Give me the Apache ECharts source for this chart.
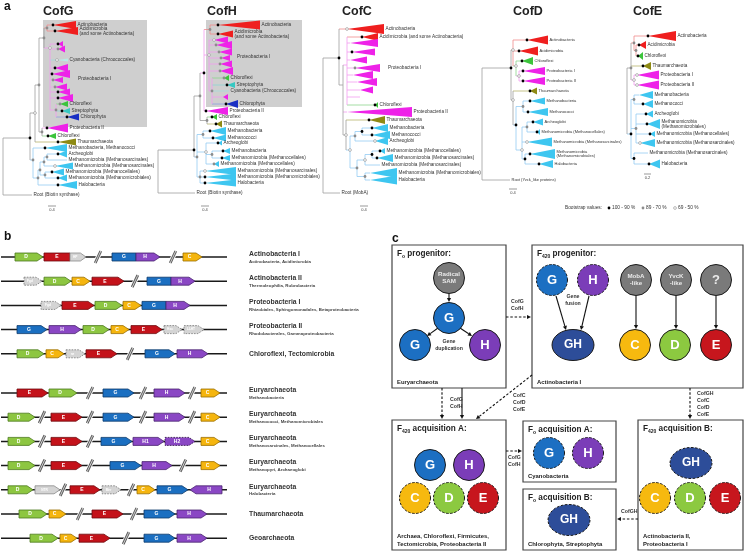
<!DOCTYPE html>
<html><head><meta charset="utf-8">
<script src="https://cdn.jsdelivr.net/npm/echarts@6/dist/echarts.min.js"></script>
<style>html,body{margin:0;padding:0;background:#fff}#c{width:744px;height:551px}</style>
</head><body><div id="c"></div>
<script>
// ================= DATA =================
// Panel a: phylogenetic trees. leaf: [label, y, parentX, apexX, tipX, halfHeight, group, bootstrap]
// node: [x, y, yTop, yBottom, parentX, group, bootstrap]   bootstrap: 0 = 100-90, 1 = 89-70, 2 = 69-50, -1 none
const treeTitles = ['CofG', 'CofH', 'CofC', 'CofD', 'CofE'];
const bootstrapLabels = ['100 - 90 %', '89 - 70 %', '69 - 50 %'];

const CofG_leaves = [
  ['Actinobacteria', 25, 47, 53, 76, 4, 'act', 0],
  ['Acidimicrobia\n(and some Actinobacteria)', 31, 47, 55, 78, 4, 'act', 0],
  ['', 44, 50, 58, 63, 3, 'pro', 0],
  ['', 49, 50, 58, 65, 3.5, 'pro', 1],
  ['Cyanobacteria (Chroococcales)', 60, 50, 57, 68, 1.5, 'cya', 2],
  ['', 68, 50, 55, 68, 4, 'pro', 0],
  ['', 74, 50, 52, 70, 4, 'pro', 0],
  ['', 80, 50, 53, 63, 3, 'pro', 1],
  ['', 87, 50, 55, 67, 3.5, 'pro', 1],
  ['', 92, 50, 58, 70, 3.5, 'pro', 0],
  ['', 98, 50, 58, 73, 4, 'pro', 0],
  ['Chloroflexi', 104, 56, 60, 68, 3, 'chl', 1],
  ['Streptophyta', 111, 56, 62, 70, 3, 'str', 0],
  ['Chlorophyta', 117, 56, 67, 79, 3.5, 'chp', 0],
  ['Proteobacteria II', 128, 42, 47, 68, 4.5, 'pro', 0],
  ['Chloroflexi', 136, 42, 48, 56, 3, 'chl', 0],
  ['Thaumarchaeota', 142, 35, 58, 76, 3.5, 'tha', 0],
  ['Methanobacteria, Methanococci', 148, 33, 45, 67, 4, 'arc', 0],
  ['Archeoglobi', 154, 47, 58, 67, 3.5, 'arc', 0],
  ['Methanomicrobia (Methanosarcinales)', 160, 47, 67, 67, 0, 'arc', -1],
  ['Methanomicrobia (Methanosarcinales)', 166, 44, 55, 73, 3.5, 'arc', 2],
  ['Methanomicrobia (Methanocellales)', 172, 45, 52, 64, 3.5, 'arc', 0],
  ['Methanomicrobia (Methanomicrobiales)', 178, 45, 58, 67, 3.5, 'arc', 0],
  ['Halobacteria', 185, 38, 58, 77, 4, 'arc', 0],
  ['Root (Biotin synthase)', 195, 3, 32, 32, 0, 'root', -1]
];
const CofG_nodes = [
  [3, 166, 138, 195, 3, 'root', -1],
  [30, 138, 113, 160, 3, 'root', 0],
  [35, 113, 85, 142, 30, 'root', 2],
  [39, 85, 38, 132, 35, 'root', 1],
  [44, 38, 28, 48, 39, 'root', 1],
  [47, 28, 25, 31, 44, 'act', 1],
  [50, 48, 44, 110, 44, 'pro', 2],
  [56, 110, 104, 117, 50, 'pro', 1],
  [42, 132, 128, 136, 39, 'root', 1],
  [33, 160, 148, 178, 30, 'arc', 1],
  [38, 178, 170, 185, 33, 'arc', 1],
  [40, 170, 162, 175, 38, 'arc', 1],
  [44, 162, 157, 166, 40, 'arc', 1],
  [47, 157, 154, 160, 44, 'arc', 1],
  [45, 175, 172, 178, 40, 'arc', 1]
];
const CofG_cladeLabels = [['Proteobacteria I', 78, 79]];

const CofH_leaves = [
  ['Actinobacteria', 25, 210, 218, 260, 4.5, 'act', 0],
  ['Acidimicrobia\n(and some Actinobacteria)', 34, 210, 218, 233, 3.5, 'act', 0],
  ['', 40, 209, 214, 228, 3.5, 'pro', 2],
  ['', 45, 209, 216, 232, 4, 'pro', 1],
  ['', 52, 209, 219, 232, 3.5, 'pro', 1],
  ['', 58, 209, 221, 230, 3, 'pro', 1],
  ['', 64, 209, 220, 232, 3.5, 'pro', 1],
  ['', 71, 209, 220, 233, 4, 'pro', 1],
  ['Chloroflexi', 78, 212, 224, 229, 3, 'chl', 1],
  ['Streptophyta', 85, 212, 227, 235, 3, 'str', 0],
  ['Cyanobacteria (Chroococcales)', 91, 212, 229, 229, 0, 'cya', -1],
  ['', 97, 212, 223, 228, 3, 'pro', -1],
  ['Chlorophyta', 104, 212, 226, 238, 4, 'chp', 0],
  ['Proteobacteria II', 111, 204, 206, 228, 4, 'pro', 0],
  ['Chloroflexi', 117, 207, 212, 217, 3, 'chl', 0],
  ['Thaumarchaeota', 124, 207, 216, 222, 3.5, 'tha', 0],
  ['Methanobacteria', 131, 203, 210, 226, 4, 'arc', 0],
  ['Methanococci', 138, 203, 213, 226, 3.5, 'arc', 0],
  ['Archeoglobi', 143, 206, 218, 222, 2.5, 'arc', 0],
  ['Methanobacteria', 151, 212, 223, 230, 3, 'arc', 0],
  ['Methanomicrobia (Methanocellales)', 158, 212, 222, 230, 3, 'arc', 0],
  ['Methanomicrobia (Methanocellales)', 164, 206, 214, 219, 3, 'arc', 1],
  ['Methanomicrobia (Methanosarcinales)', 171, 200, 205, 236, 4, 'arc', 2],
  ['Methanomicrobia (Methanomicrobiales)', 177, 200, 205, 236, 3.5, 'arc', 0],
  ['Halobacteria', 183, 200, 205, 236, 3.5, 'arc', 0],
  ['Root (Biotin synthase)', 193, 158, 195, 195, 0, 'root', -1]
];
const CofH_nodes = [
  [158, 171.5, 150, 193, 158, 'root', -1],
  [194, 150, 96, 157, 158, 'root', 0],
  [200, 96, 73, 120.5, 194, 'root', 1],
  [204, 73, 29.5, 111, 200, 'pro', 0],
  [210, 29.5, 25, 34, 204, 'act', 1],
  [209, 55, 40, 91, 204, 'pro', 2],
  [212, 91, 78, 104, 209, 'pro', 1],
  [207, 120.5, 117, 124, 200, 'root', 1],
  [197, 157, 134.5, 177, 194, 'arc', 1],
  [203, 134.5, 131, 138, 197, 'arc', 1],
  [206, 152, 143, 164, 197, 'arc', 2],
  [212, 154.5, 151, 158, 206, 'arc', 1],
  [200, 177, 171, 183, 197, 'arc', 1]
];
const CofH_cladeLabels = [['Proteobacteria I', 237, 57]];

const CofC_leaves = [
  ['Actinobacteria', 29, 339, 347, 384, 5, 'act', 2],
  ['Acidimicrobia (and some Actinobacteria)', 37, 347, 362, 378, 4, 'act', 0],
  ['', 43, 347, 350, 378, 4, 'pro', -1],
  ['', 52, 347, 352, 375, 3.5, 'pro', 0],
  ['', 60, 347, 350, 367, 3.5, 'pro', -1],
  ['', 68, 347, 355, 380, 4, 'pro', 1],
  ['', 75, 347, 353, 373, 4, 'pro', -1],
  ['', 82, 347, 357, 377, 4, 'pro', -1],
  ['', 90, 347, 360, 373, 3.5, 'pro', -1],
  ['', 97, 347, 360, 360, 0, 'pro', -1],
  ['Chloroflexi', 105, 347, 375, 378, 3, 'chl', 0],
  ['Proteobacteria II', 112, 343, 347, 412, 5, 'pro', -1],
  ['Thaumarchaeota', 120, 346, 369, 385, 4, 'tha', 0],
  ['Methanobacteria', 128, 362, 372, 388, 4, 'arc', 0],
  ['Methanococci', 135, 362, 372, 390, 4, 'arc', 0],
  ['Archeoglobi', 141, 355, 375, 388, 4, 'arc', 2],
  ['Methanomicrobia (Methanocellales)', 151, 372, 380, 385, 3, 'arc', 0],
  ['Methanomicrobia (Methanosarcinales)', 158, 372, 377, 393, 4, 'arc', 0],
  ['Methanomicrobia (Methanosarcinales)', 165, 365, 380, 380, 0, 'arc', -1],
  ['Methanomicrobia (Methanomicrobiales)', 173, 365, 370, 397, 5, 'arc', -1],
  ['Halobacteria', 180, 365, 370, 397, 4.5, 'arc', -1],
  ['Root (MobA)', 193, 323, 340, 340, 0, 'root', -1]
];
const CofC_nodes = [
  [323, 125, 58, 193, 323, 'root', -1],
  [339, 58, 29, 85, 323, 'root', 0],
  [343, 85, 65, 135, 339, 'root', -1],
  [347, 65, 37, 105, 343, 'pro', -1],
  [346, 135, 120, 150, 343, 'root', 2],
  [350, 150, 136, 168, 346, 'arc', 2],
  [355, 136, 131.5, 141, 350, 'arc', 1],
  [362, 131.5, 128, 135, 355, 'arc', 0],
  [357, 168, 160, 176.5, 350, 'arc', 1],
  [365, 160, 154.5, 165, 357, 'arc', 2],
  [372, 154.5, 151, 158, 365, 'arc', 0],
  [365, 176.5, 173, 180, 357, 'arc', 1]
];
const CofC_cladeLabels = [['Proteobacteria I', 388, 68]];

const CofD_leaves = [
  ['Actinobacteria', 40, 513, 527, 548, 4.5, 'act', 0],
  ['Acidimicrobia', 51, 513, 519, 538, 4.5, 'act', 0],
  ['Chloroflexi', 61, 516, 522, 533, 4, 'chl', 0],
  ['Proteobacteria I', 71, 519, 523, 545, 4, 'pro', 0],
  ['Proteobacteria II', 81, 519, 523, 545, 4, 'pro', 0],
  ['Thaumarchaeota', 91, 513, 530, 537, 3.5, 'tha', 0],
  ['Methanobacteria', 101, 523, 530, 545, 3.5, 'arc', 0],
  ['Methanococci', 112, 523, 528, 548, 4, 'arc', 0],
  ['Archeoglobi', 122, 527, 533, 543, 3.5, 'arc', 0],
  ['Methanomicrobia (Methanocellales)', 132, 527, 537, 540, 3, 'arc', 0],
  ['Methanomicrobia (Methanosarcinales)', 142, 522, 527, 552, 4.5, 'arc', 2],
  ['Methanomicrobia\n(Methanomicrobiales)', 154, 525, 530, 555, 5, 'arc', 0],
  ['Halobacteria', 164, 525, 539, 553, 4, 'arc', 0],
  ['Root (Yvck_like proteins)', 180, 482, 510, 510, 0, 'root', -1]
];
const CofD_nodes = [
  [482, 124, 68, 180, 482, 'root', -1],
  [511, 68, 50, 100, 482, 'root', 0],
  [513, 50, 40, 66, 511, 'act', 2],
  [516, 66, 61, 76, 513, 'chl', 2],
  [519, 76, 71, 81, 516, 'pro', 2],
  [513, 100, 91, 125, 511, 'root', 2],
  [516, 125, 106.5, 150, 513, 'arc', 0],
  [523, 106.5, 101, 112, 516, 'arc', 1],
  [522, 150, 127, 159, 516, 'arc', 2],
  [527, 127, 122, 132, 522, 'arc', 1],
  [525, 159, 154, 164, 522, 'arc', 0]
];
const CofD_cladeLabels = [];

const CofE_leaves = [
  ['Actinobacteria', 36, 634, 648, 676, 5, 'act', 0],
  ['Acidimicrobia', 45, 636, 639, 646, 4, 'act', 0],
  ['Chloroflexi', 56, 636, 638, 643, 4, 'chl', 0],
  ['Thaumarchaeota', 66, 631, 643, 651, 4, 'tha', 0],
  ['Proteobacteria I', 75, 634, 637, 659, 4.5, 'pro', 2],
  ['Proteobacteria II', 85, 634, 637, 659, 4.5, 'pro', 2],
  ['Methanobacteria', 95, 634, 639, 653, 4, 'arc', -1],
  ['Methanococci', 104, 634, 643, 653, 4, 'arc', 0],
  ['Archeoglobi', 114, 636, 646, 653, 3.5, 'arc', 0],
  ['Methanomicrobia\n(Methanomicrobiales)', 124, 636, 647, 660, 5, 'arc', 0],
  ['Methanomicrobia (Methanocellales)', 134, 636, 650, 655, 3, 'arc', 0],
  ['Methanomicrobia (Methanosarcinales)', 143, 636, 640, 655, 4, 'arc', 2],
  ['Methanomicrobia (Methanosarcinales)', 153, 634, 648, 648, 0, 'arc', -1],
  ['Halobacteria', 164, 634, 649, 660, 4.5, 'arc', 0]
];
const CofE_nodes = [
  [627, 101, 68, 134, 627, 'root', -1],
  [631, 68, 43, 80, 627, 'root', 1],
  [634, 43, 36, 50.5, 631, 'act', 1],
  [636, 50.5, 45, 56, 634, 'act', 1],
  [634, 80, 75, 85, 631, 'pro', 2],
  [631, 134, 99.5, 158.5, 627, 'arc', 0],
  [634, 99.5, 95, 104, 631, 'arc', 1],
  [636, 128.5, 114, 143, 631, 'arc', 1],
  [634, 158.5, 153, 164, 631, 'arc', 0]
];
const CofE_cladeLabels = [];
const scaleBarLabels = ['0.4', '0.4', '0.4', '0.4', '0.2'];

// Panel b: gene clusters. gene: [name, start, end, form]  form: a arrow, r fused block, g auxiliary, d dashed auxiliary, dh dashed gene, l reverse arrow
const geneRowNames = ['Actinobacteria I', 'Actinobacteria II', 'Proteobacteria I', 'Proteobacteria II', 'Chloroflexi, Tectomicrobia',
  'Euryarchaeota', 'Euryarchaeota', 'Euryarchaeota', 'Euryarchaeota', 'Euryarchaeota', 'Thaumarchaeota', 'Geoarchaeota'];
const geneRowSubs = ['Actinobacteria, Acidimicrobia', 'Thermoleophilia, Rubrobacteria', 'Rhizobiales, Sphingomonadales, Betaproteobacteria',
  'Rhodobacterales, Gammaproteobacteria', '', 'Methanobacteria', 'Methanococci, Methanomicrobiales', 'Methanosarcinales, Methanocellales',
  'Methanopyri, Archaeoglobi', 'Halobacteria', '', ''];
const geneRowGenes = [
  [['D', 15, 43, 'a'], ['E', 44, 70, 'r'], ['HP', 70, 86, 'g'], ['G', 112, 136, 'r'], ['H', 136, 160, 'a'], ['C', 183, 202, 'a']],
  [['Fgd', 24, 42, 'd'], ['D', 44, 71, 'a'], ['C', 72, 90, 'a'], ['E', 92, 124, 'a'], ['G', 147, 171, 'r'], ['H', 171, 195, 'a']],
  [['Fgd', 41, 61, 'd'], ['E', 62, 94, 'a'], ['D', 95, 122, 'a'], ['C', 123, 141, 'a'], ['G', 142, 166, 'r'], ['H', 166, 190, 'a']],
  [['G', 17, 47, 'a'], ['H', 49, 81, 'a'], ['D', 83, 109, 'a'], ['C', 111, 129, 'a'], ['E', 131, 162, 'a'], ['Hxc', 164, 182, 'd'], ['LLHT', 184, 204, 'd']],
  [['D', 17, 44, 'a'], ['C', 46, 64, 'a'], ['ne', 66, 85, 'd'], ['E', 86, 117, 'a'], ['G', 145, 175, 'a'], ['H', 177, 208, 'a']],
  [['E', 17, 48, 'a'], ['D', 49, 77, 'a'], ['G', 103, 134, 'a'], ['H', 154, 185, 'a'], ['C', 201, 220, 'a']],
  [['D', 8, 35, 'a'], ['E', 51, 82, 'a'], ['G', 103, 134, 'a'], ['H', 154, 185, 'a'], ['C', 201, 220, 'a']],
  [['D', 8, 35, 'a'], ['E', 51, 82, 'a'], ['G', 101, 132, 'a'], ['H1', 133, 164, 'a'], ['H2', 165, 195, 'dh'], ['C', 201, 220, 'a']],
  [['D', 8, 35, 'a'], ['E', 51, 82, 'a'], ['G', 110, 141, 'a'], ['H', 142, 172, 'a'], ['C', 201, 220, 'a']],
  [['D', 8, 33, 'a'], ['NTR', 35, 60, 'g'], ['E', 70, 100, 'a'], ['Mer', 102, 121, 'd'], ['C', 137, 155, 'a'], ['G', 157, 188, 'a'], ['H', 190, 222, 'l']],
  [['D', 19, 47, 'a'], ['C', 49, 66, 'a'], ['E', 92, 123, 'a'], ['G', 144, 175, 'a'], ['H', 177, 207, 'a']],
  [['D', 30, 58, 'a'], ['C', 60, 77, 'a'], ['E', 79, 110, 'a'], ['G', 144, 175, 'a'], ['H', 177, 207, 'a']]
];
const geneRowBreaks = [[98, 173], [135], [], [], [130], [90, 143, 192], [42, 90, 143, 192], [42, 90], [42, 90, 183], [63, 131], [80, 134], [126]];

// Panel c: evolutionary scenario
const cBoxTitles = [['o', ' progenitor:'], ['420', ' progenitor:'], ['420', ' acquisition A:'], ['o', ' acquisition A:'], ['o', ' acquisition B:'], ['420', ' acquisition B:']];
const cBoxFooters = [['Euryarchaeota'], ['Actinobacteria I'], ['Archaea, Chloroflexi, Firmicutes,', 'Tectomicrobia, Proteobacteria II'],
  ['Cyanobacteria'], ['Chlorophyta, Streptophyta'], ['Actinobacteria II,', 'Proteobacteria I']];
const cNodeLabels = ['Radical\nSAM', 'G', 'G', 'H', 'G', 'H', 'MobA\n-like', 'YvcK\n-like', '?', 'GH', 'C', 'D', 'E',
  'G', 'H', 'C', 'D', 'E', 'G', 'H', 'GH', 'GH', 'C', 'D', 'E'];
const cNodeKinds = ['X', 'G', 'G', 'H', 'G', 'H', 'X', 'X', 'X', 'GH', 'C', 'D', 'E',
  'G', 'H', 'C', 'D', 'E', 'G', 'H', 'GH', 'GH', 'C', 'D', 'E'];
const cNodeInferred = [0, 0, 0, 0, 1, 1, 0, 0, 0, 0, 0, 0, 0, 0, 0, 1, 1, 1, 1, 1, 1, 1, 1, 1, 1];
const cArrowLabels = ['CofG\nCofH', 'CofG\nCofH', 'CofC\nCofD\nCofE', 'CofGH\nCofC\nCofD\nCofE', 'CofG\nCofH', 'CofGH'];
const cInnerLabels = ['Gene\nduplication', 'Gene\nfusion'];

// ================= LAYOUT / STYLE =================
const FONT = 'Arial, "Liberation Sans", Helvetica, sans-serif';
const wedgeColor = { act: '#ef1f1f', pro: '#ee22e8', cya: '#b8ece6', chl: '#3cc43c', str: '#36c8c2', chp: '#1a30c4', tha: '#8e8a14', arc: '#3ec6f0', root: '#999' };
const branchColor = { act: '#f08a8a', pro: '#f39cf0', cya: '#a4dcdc', chl: '#8ed48e', str: '#8ed4d4', chp: '#8e9ee0', tha: '#b8b46c', arc: '#94ccf2', root: '#a0a0a0' };
const geneFill = { D: '#8dc641', E: '#c4121a', C: '#f5b50e', G: '#1b6fc1', H: '#8a47c4', X: '#d4d4d4' };
const geneStroke = { D: '#4d7a1e', E: '#6e0b0f', C: '#9a6e00', G: '#0c3a6a', H: '#4a2470', X: '#8a8a8a' };
const nodeFill = { G: '#1c6fc2', H: '#7b3db8', C: '#f6b90f', D: '#8cc940', E: '#c7161d', GH: '#2d4d99', X: '#7a7a7a' };

const treeTitleX = [43, 207, 342, 513, 633];
const treeLabelSize = [4.7, 4.7, 4.7, 4.0, 4.6];
const treeBoxes = [[43, 20, 147, 127], [206, 20, 302, 107]];
const scaleBars = [[48, 56, 206], [201, 209, 206], [360, 368, 206], [509, 517, 189], [644, 651, 174]];
const legendX = [565, 612, 646, 678];
const cBoxRects = [[392, 245, 506, 388], [532, 245, 743, 388], [392, 420, 506, 550], [523, 421, 616, 482], [523, 489, 616, 550], [638, 420, 743, 550]];
const cNodePos = [[449, 278], [449, 318], [415, 345], [485, 345], [552, 280], [593, 280], [636, 280], [676, 280], [716, 280], [573, 345], [635, 345], [675, 345], [716, 345],
  [430, 465], [469, 465], [415, 498], [449, 498], [483, 498], [549, 453], [588, 453], [569, 520], [691, 463], [655, 498], [690, 498], [725, 498]];
const cArrows = [[449, 293, 449, 302, 0], [438, 328, 427, 336, 0], [460, 328, 472, 336, 0], [556, 296, 566, 330, 0], [589, 296, 581, 330, 0],
  [636, 296, 636, 329, 0], [676, 296, 676, 329, 0], [716, 296, 716, 329, 0], [506, 317, 531, 317, 1], [442, 388, 442, 419, 1], [462, 388, 462, 419, 0],
  [532, 375, 476, 419, 1], [690, 388, 690, 419, 1], [506, 451, 522, 451, 1], [638, 519, 617, 519, 1]];
const cArrowLabelPos = [[511, 305], [450, 403], [513, 403], [697, 404], [508, 461], [621, 512]];
const cInnerLabelPos = [[449, 345], [573, 300]];

// ================= BUILD ELEMENTS =================
const trees = [
  [CofG_leaves, CofG_nodes, CofG_cladeLabels], [CofH_leaves, CofH_nodes, CofH_cladeLabels], [CofC_leaves, CofC_nodes, CofC_cladeLabels],
  [CofD_leaves, CofD_nodes, CofD_cladeLabels], [CofE_leaves, CofE_nodes, CofE_cladeLabels]
];
const HL = [], VL = [], WG = [], DT = [], TX = [];
trees.forEach(([leaves, nodes, clabs], ti) => {
  const small = { fontSize: treeLabelSize[ti], fill: '#333' };
  const lh = treeLabelSize[ti] * 1.1;
  leaves.forEach(([lab, y, px, ax, tx, h, g, dot]) => {
    if (ax > px) HL.push([px, ax, y, g]);
    if (h > 0) WG.push([ax, tx, y, h, g]);
    if (dot >= 0) DT.push([ax, y, dot]);
    if (lab) {
      const lines = lab.split('\n'); const x0 = (h > 0 ? tx : ax) + 1.5;
      lines.forEach((s, i) => TX.push([s, x0, y + (i - (lines.length - 1) / 2) * lh, small]));
    }
  });
  nodes.forEach(([x, y, y1, y2, px, g, dot]) => {
    VL.push([x, y1, y2, g]);
    if (x > px) HL.push([px, x, y, g]);
    if (dot >= 0) DT.push([x, y, dot]);
  });
  clabs.forEach(([s, x, y]) => TX.push([s, x, y, small]));
});
treeTitles.forEach((t, i) => TX.push([t, treeTitleX[i], 12, { fontSize: 12.5, fontWeight: 'bold', fill: '#222' }]));
const SB = scaleBars.map(b => [b[0], b[1], b[2]]);
scaleBars.forEach((b, i) => TX.push([scaleBarLabels[i], (b[0] + b[1]) / 2, b[2] + 4, { fontSize: 4, fill: '#444', align: 'center' }]));
// bootstrap legend
TX.push(['Bootstrap values:', legendX[0], 208, { fontSize: 4.8, fill: '#333' }]);
bootstrapLabels.forEach((s, i) => { DT.push([legendX[i + 1] - 3, 208, i]); TX.push([s, legendX[i + 1], 208, { fontSize: 4.8, fill: '#333' }]); });
// panel letters
[['a', 4, 7], ['b', 4, 237], ['c', 392, 239]].forEach(([s, x, y]) => TX.push([s, x, y, { fontSize: 12, fontWeight: 'bold', fill: '#111' }]));

// panel b
const rowY = i => 257 + i * 24.2 + (i >= 5 ? 15 : 0);
const GL = [], GN = [], BK = [];
geneRowGenes.forEach((genes, i) => {
  const y = rowY(i);
  GL.push([1, 227, y]);
  genes.forEach(g => GN.push([g[0], g[1], g[2], g[3], y]));
  geneRowBreaks[i].forEach(x => BK.push([x, y]));
  const sub = geneRowSubs[i];
  TX.push([geneRowNames[i], 249, sub ? y - 3 : y, { fontSize: 6.8, fontWeight: 'bold', fill: '#333' }]);
  if (sub) TX.push([sub, 249, y + 4.3, { fontSize: 4.4, fontWeight: 'bold', fill: '#444' }]);
});

// panel c texts
const richT = { m: { fontSize: 8.2, fontWeight: 'bold', fill: '#222', fontFamily: FONT }, s: { fontSize: 5, fontWeight: 'bold', fill: '#222', fontFamily: FONT, verticalAlign: 'bottom', padding: [5, 0, 0, 0] } };
cBoxTitles.forEach((t, i) => {
  const r = cBoxRects[i];
  TX.push(['{m|F}{s|' + t[0] + '}{m|' + t[1] + '}', r[0] + 5, r[1] + 9, { rich: richT }]);
  const f = cBoxFooters[i];
  f.forEach((s, k) => TX.push([s, r[0] + 5, r[3] - 6 - (f.length - 1 - k) * 7.5, { fontSize: 5.9, fontWeight: 'bold', fill: '#222' }]));
});
cArrowLabels.forEach((s, i) => {
  const lines = s.split('\n'); const p = cArrowLabelPos[i];
  lines.forEach((l, k) => TX.push([l, p[0], p[1] + (k - (lines.length - 1) / 2) * 7, { fontSize: 5.2, fontWeight: 'bold', fill: '#333' }]));
});
cInnerLabels.forEach((s, i) => {
  const lines = s.split('\n'); const p = cInnerLabelPos[i];
  lines.forEach((l, k) => TX.push([l, p[0], p[1] + (k - 0.5) * 6.5, { fontSize: 5.2, fontWeight: 'bold', fill: '#333', align: 'center' }]));
});
const CN = cNodeLabels.map((s, i) => [s, cNodePos[i][0], cNodePos[i][1], cNodeKinds[i], cNodeInferred[i]]);

// ================= RENDER =================
function mk(items, draw, z) {
  return {
    type: 'custom', coordinateSystem: 'cartesian2d', clip: false, silent: true, z: z || 2, animation: false,
    data: items.map(() => [0, 0]), encode: { x: 0, y: 1 },
    renderItem: (params, api) => draw(items[params.dataIndex], (x, y) => api.coord([x, y]))
  };
}
const line = (a, b, style) => ({ type: 'line', shape: { x1: a[0], y1: a[1], x2: b[0], y2: b[1] }, style });

const drawTreeBox = (d, P) => { const a = P(d[0], d[1]), b = P(d[2], d[3]); return { type: 'rect', shape: { x: a[0], y: a[1], width: b[0] - a[0], height: b[1] - a[1] }, style: { fill: '#cfcfcf' } }; };
const drawH = (d, P) => line(P(d[0], d[2]), P(d[1], d[2]), { stroke: branchColor[d[3]], lineWidth: 0.8 });
const drawV = (d, P) => line(P(d[0], d[1]), P(d[0], d[2]), { stroke: branchColor[d[3]], lineWidth: 0.8 });
const drawW = (d, P) => { const [ax, tx, y, h, g] = d; return { type: 'polygon', shape: { points: [P(ax, y), P(tx, y - h), P(tx, y + h)] }, style: { fill: wedgeColor[g] } }; };
const drawDot = (d, P) => { const p = P(d[0], d[1]); const t = d[2];
  return { type: 'circle', shape: { cx: p[0], cy: p[1], r: 1.4 }, style: t === 0 ? { fill: '#000' } : t === 1 ? { fill: '#8c8c8c' } : { fill: '#fff', stroke: '#8c8c8c', lineWidth: 0.6 } }; };
const drawSB = (d, P) => line(P(d[0], d[2]), P(d[1], d[2]), { stroke: '#555', lineWidth: 0.6 });
const drawText = (d, P) => { const p = P(d[1], d[2]);
  return { type: 'text', x: p[0], y: p[1], style: Object.assign({ text: d[0], fill: '#333', fontFamily: FONT, fontSize: 5, align: 'left', verticalAlign: 'middle' }, d[3]) }; };
const drawGL = (d, P) => line(P(d[0], d[2]), P(d[1], d[2]), { stroke: '#1a1a1a', lineWidth: 1.5 });
const drawGene = (d, P) => {
  const [name, x0, x1, form, y] = d;
  const a = P(x0, y - 4), b = P(x1, y + 4);
  const l = a[0], r = b[0], top = a[1], bot = b[1], mid = (top + bot) / 2, tip = Math.min(6, (r - l) * 0.35);
  let pts, cx = (l + r) / 2;
  if (form === 'r') pts = [[l, top], [r, top], [r, bot], [l, bot]];
  else if (form === 'l') { pts = [[l, mid], [l + tip, top], [r, top], [r, bot], [l + tip, bot]]; cx = (l + tip + r) / 2; }
  else { pts = [[l, top], [r - tip, top], [r, mid], [r - tip, bot], [l, bot]]; cx = (l + r - tip) / 2; }
  const aux = form === 'g' || form === 'd';
  const k = aux ? 'X' : name[0];
  const style = { fill: geneFill[k], stroke: geneStroke[k], lineWidth: 0.8 };
  if (form === 'd' || form === 'dh') { style.lineDash = [1.6, 1.2]; style.stroke = aux ? '#777' : '#2a1040'; }
  return { type: 'group', children: [
    { type: 'polygon', shape: { points: pts }, style },
    { type: 'text', x: cx, y: mid, style: { text: name, fill: '#fff', fontFamily: FONT, fontWeight: 'bold', fontSize: aux ? 3.2 : 5, align: 'center', verticalAlign: 'middle' } }
  ] };
};
const drawBreak = (d, P) => { const a = P(d[0] - 2.8, d[1] + 6), b = P(d[0] + 2.8, d[1] - 6);
  return { type: 'group', children: [line(a, b, { stroke: '#fff', lineWidth: 4.5 }), line(a, b, { stroke: '#5a5a5a', lineWidth: 2.8 }), line(a, b, { stroke: '#fff', lineWidth: 0.7 })] }; };
const drawCBox = (d, P) => { const a = P(d[0], d[1]), b = P(d[2], d[3]);
  return { type: 'rect', shape: { x: a[0], y: a[1], width: b[0] - a[0], height: b[1] - a[1] }, style: { fill: 'none', stroke: '#444', lineWidth: 1.2 } }; };
const drawCNode = (d, P) => {
  const [s, x, y, kind, inf] = d; const p = P(x, y);
  const style = { fill: nodeFill[kind], stroke: '#1a1a1a', lineWidth: 1 };
  if (inf) style.lineDash = [2.5, 1.6];
  const shape = kind === 'GH' ? { type: 'ellipse', shape: { cx: p[0], cy: p[1], rx: 21, ry: 15.5 }, style }
    : { type: 'circle', shape: { cx: p[0], cy: p[1], r: 15.5 }, style };
  const fs = kind === 'X' ? (s === '?' ? 13 : 6.2) : (kind === 'GH' ? 12 : 13);
  return { type: 'group', children: [shape,
    { type: 'text', x: p[0], y: p[1], style: { text: s, fill: kind === 'X' ? '#eaeaea' : '#fff', fontFamily: FONT, fontWeight: 'bold', fontSize: fs, lineHeight: fs * 1.15, align: 'center', verticalAlign: 'middle' } }] };
};
const drawArrow = (d, P) => {
  const [x1, y1, x2, y2, dash] = d; const a = P(x1, y1), b = P(x2, y2);
  const dx = b[0] - a[0], dy = b[1] - a[1], L = Math.hypot(dx, dy), ux = dx / L, uy = dy / L, hl = 4, hw = 2.1;
  const bx = b[0] - ux * hl, by = b[1] - uy * hl;
  const st = { stroke: '#111', lineWidth: 1.1 }; if (dash) st.lineDash = [2.5, 1.8];
  return { type: 'group', children: [line(a, [bx, by], st),
    { type: 'polygon', shape: { points: [[b[0], b[1]], [bx - uy * hw, by + ux * hw], [bx + uy * hw, by - ux * hw]] }, style: { fill: '#111' } }] };
};

const option = {
  animation: false,
  grid: { left: 0, right: 0, top: 0, bottom: 0 },
  xAxis: { type: 'value', min: 0, max: 744, show: false },
  yAxis: { type: 'value', min: 0, max: 551, inverse: true, show: false },
  series: [
    mk(treeBoxes, drawTreeBox, 1),
    mk(HL, drawH, 2), mk(VL, drawV, 2), mk(WG, drawW, 3), mk(SB, drawSB, 3),
    mk(GL, drawGL, 2), mk(GN, drawGene, 3), mk(BK, drawBreak, 4),
    mk(cBoxRects, drawCBox, 2), mk(cArrows, drawArrow, 3), mk(CN, drawCNode, 4),
    mk(DT, drawDot, 5), mk(TX, drawText, 6)
  ]
};
const chart = echarts.init(document.getElementById('c'), null, { renderer: 'canvas', width: 744, height: 551 });
chart.setOption(option);
</script></body></html>
